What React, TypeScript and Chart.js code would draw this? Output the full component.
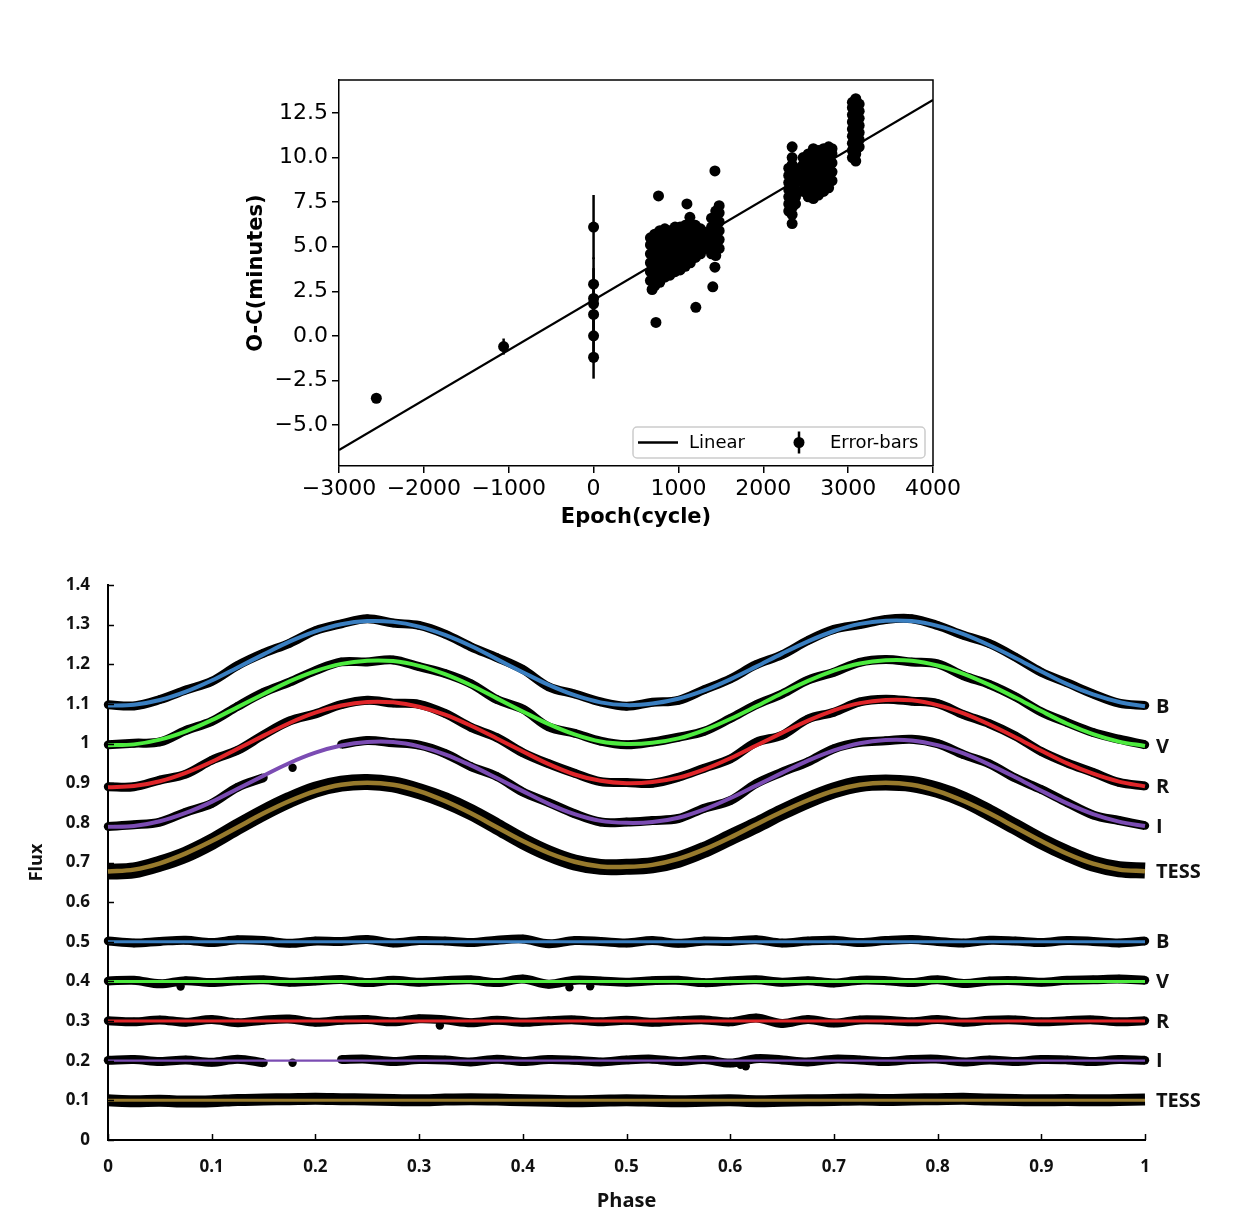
import React, { useEffect, useRef } from "react";
import { Chart, registerables } from "chart.js";

Chart.register(...registerables);

// ================= Top panel: O-C diagram =================
const epochTicks = [-3000, -2000, -1000, 0, 1000, 2000, 3000, 4000];
const epochTickLabels = ["−3000", "−2000", "−1000", "0", "1000", "2000", "3000", "4000"];
const ocTicks = [-5, -2.5, 0, 2.5, 5, 7.5, 10, 12.5];
const ocTickLabels = ["−5.0", "−2.5", "0.0", "2.5", "5.0", "7.5", "10.0", "12.5"];

// [epoch, O-C (minutes), error (minutes)]
const ocEarly = [[-2560, -3.5, 0.15], [-1060, -0.6, 0.45]];
const ocEpochZero = [[0, 6.1, 1.8], [0, 2.9, 1.5], [0, 2.1, 1.0], [0, 1.8, 2.0], [0, 1.2, 1.0], [0, 0.0, 1.5], [0, -1.2, 1.2]];

// [epoch, O-C (minutes)]
const ocGroupA = [
  [670, 3.1], [670, 3.6], [670, 4.1], [670, 4.6], [670, 5.1], [670, 5.5],
  [720, 2.8], [720, 3.3], [720, 3.8], [720, 4.3], [720, 4.8], [720, 5.3], [720, 5.7],
  [780, 3.0], [780, 3.5], [780, 4.0], [780, 4.5], [780, 5.0], [780, 5.5], [780, 5.9],
  [840, 3.3], [840, 3.8], [840, 4.3], [840, 4.8], [840, 5.3], [840, 5.8], [840, 6.0],
  [900, 3.4], [900, 3.9], [900, 4.4], [900, 4.9], [900, 5.4], [900, 5.9],
  [960, 3.6], [960, 4.1], [960, 4.6], [960, 5.1], [960, 5.6], [960, 6.1],
  [1020, 3.7], [1020, 4.2], [1020, 4.7], [1020, 5.2], [1020, 5.7], [1020, 6.1],
  [1080, 3.9], [1080, 4.4], [1080, 4.9], [1080, 5.4], [1080, 5.9], [1080, 6.2],
  [1140, 4.1], [1140, 4.6], [1140, 5.1], [1140, 5.6], [1140, 6.1],
  [1200, 4.4], [1200, 4.9], [1200, 5.4], [1200, 5.9], [1200, 6.2],
  [1260, 4.6], [1260, 5.1], [1260, 5.6], [1260, 6.0],
  [1320, 4.9], [1320, 5.4], [1320, 5.8],
  [690, 2.6], [735, 0.75], [765, 7.85], [1100, 7.4], [1135, 6.65], [1205, 1.6],
];
const ocGroupB = [
  [1390, 4.6], [1390, 5.1], [1390, 5.6], [1390, 6.1], [1390, 6.6],
  [1440, 4.5], [1440, 5.0], [1440, 5.5], [1440, 6.0], [1440, 6.5], [1440, 7.0],
  [1480, 4.9], [1480, 5.4], [1480, 5.9], [1480, 6.4], [1480, 6.9], [1480, 7.3],
  [1430, 9.25], [1430, 3.85], [1405, 2.75],
];
const ocGroupC = [
  [2300, 7.0], [2300, 7.4], [2300, 7.8], [2300, 8.2], [2300, 8.6], [2300, 9.0], [2300, 9.4],
  [2340, 6.3], [2340, 6.8], [2340, 7.2], [2340, 7.6], [2340, 8.0], [2340, 8.4], [2340, 8.8], [2340, 9.2], [2340, 9.6], [2340, 10.0], [2340, 10.6],
  [2380, 7.4], [2380, 7.8], [2380, 8.2], [2380, 8.6], [2380, 9.0], [2380, 9.4],
];
const ocGroupD = [
  [2470, 8.1], [2470, 8.6], [2470, 9.1], [2470, 9.6], [2470, 10.0],
  [2530, 7.8], [2530, 8.3], [2530, 8.8], [2530, 9.3], [2530, 9.8], [2530, 10.2],
  [2590, 7.7], [2590, 8.2], [2590, 8.7], [2590, 9.2], [2590, 9.7], [2590, 10.2], [2590, 10.5],
  [2650, 7.9], [2650, 8.4], [2650, 8.9], [2650, 9.4], [2650, 9.9], [2650, 10.4],
  [2710, 8.1], [2710, 8.6], [2710, 9.1], [2710, 9.6], [2710, 10.1], [2710, 10.5],
  [2770, 8.3], [2770, 8.8], [2770, 9.3], [2770, 9.8], [2770, 10.3], [2770, 10.6],
  [2810, 8.7], [2810, 9.2], [2810, 9.7], [2810, 10.2], [2810, 10.5],
];
const ocGroupE = [
  [3050, 10.0], [3050, 10.4], [3050, 10.8], [3050, 11.2], [3050, 11.6], [3050, 12.0], [3050, 12.4], [3050, 12.8], [3050, 13.1],
  [3090, 9.8], [3090, 10.2], [3090, 10.6], [3090, 11.0], [3090, 11.4], [3090, 11.8], [3090, 12.2], [3090, 12.6], [3090, 13.0], [3090, 13.3],
  [3130, 10.6], [3130, 11.0], [3130, 11.4], [3130, 11.8], [3130, 12.2], [3130, 12.6], [3130, 13.0],
];
const linearFit = [[-3000, -6.4], [4000, 13.23]];

// ================= Bottom panel: light curves =================
const phaseTicks = [0, 0.1, 0.2, 0.3, 0.4, 0.5, 0.6, 0.7, 0.8, 0.9, 1];
const phaseTickLabels = ["0", "0.1", "0.2", "0.3", "0.4", "0.5", "0.6", "0.7", "0.8", "0.9", "1"];
const fluxTicks = [0, 0.1, 0.2, 0.3, 0.4, 0.5, 0.6, 0.7, 0.8, 0.9, 1, 1.1, 1.2, 1.3, 1.4];
const fluxTickLabels = ["0", "0.1", "0.2", "0.3", "0.4", "0.5", "0.6", "0.7", "0.8", "0.9", "1", "1.1", "1.2", "1.3", "1.4"];

const phases = [
  0, 0.025, 0.05, 0.075, 0.1, 0.125, 0.15, 0.175, 0.2, 0.225, 0.25, 0.275, 0.3, 0.325, 0.35, 0.375, 0.4, 0.425, 0.45, 0.475, 0.5,
  0.525, 0.55, 0.575, 0.6, 0.625, 0.65, 0.675, 0.7, 0.725, 0.75, 0.775, 0.8, 0.825, 0.85, 0.875, 0.9, 0.925, 0.95, 0.975, 1,
];
const bandNames = ["B", "V", "R", "I", "TESS"];

const modelB = [1.096, 1.098, 1.110, 1.131, 1.159, 1.192, 1.225, 1.257, 1.283, 1.301, 1.309, 1.307, 1.295, 1.274, 1.246, 1.213, 1.180, 1.148, 1.122, 1.104, 1.097,
  1.101, 1.113, 1.134, 1.162, 1.194, 1.227, 1.258, 1.284, 1.302, 1.310, 1.309, 1.297, 1.276, 1.248, 1.216, 1.182, 1.150, 1.124, 1.105, 1.094];
const modelV = [0.996, 0.998, 1.010, 1.031, 1.059, 1.092, 1.125, 1.157, 1.183, 1.201, 1.209, 1.208, 1.196, 1.175, 1.147, 1.114, 1.081, 1.049, 1.023, 1.005, 0.999,
  1.002, 1.013, 1.034, 1.062, 1.094, 1.127, 1.158, 1.184, 1.202, 1.210, 1.209, 1.197, 1.176, 1.148, 1.116, 1.082, 1.050, 1.024, 1.005, 0.994];
const modelR = [0.890, 0.893, 0.905, 0.926, 0.954, 0.987, 1.020, 1.052, 1.078, 1.096, 1.105, 1.104, 1.093, 1.073, 1.045, 1.013, 0.980, 0.948, 0.922, 0.906, 0.900,
  0.903, 0.914, 0.935, 0.963, 0.995, 1.027, 1.058, 1.084, 1.102, 1.110, 1.109, 1.097, 1.076, 1.048, 1.016, 0.982, 0.950, 0.924, 0.904, 0.892];
const modelI = [0.790, 0.792, 0.804, 0.825, 0.853, 0.886, 0.919, 0.951, 0.977, 0.995, 1.004, 1.004, 0.993, 0.973, 0.945, 0.913, 0.880, 0.848, 0.822, 0.805, 0.800,
  0.802, 0.813, 0.834, 0.862, 0.894, 0.926, 0.957, 0.983, 1.001, 1.009, 1.008, 0.996, 0.975, 0.947, 0.915, 0.881, 0.849, 0.822, 0.803, 0.792];
const modelTESS = [0.677, 0.682, 0.698, 0.723, 0.754, 0.789, 0.824, 0.855, 0.880, 0.896, 0.901, 0.896, 0.880, 0.855, 0.824, 0.789, 0.754, 0.724, 0.702, 0.690, 0.689,
  0.694, 0.709, 0.733, 0.763, 0.796, 0.828, 0.857, 0.881, 0.896, 0.901, 0.896, 0.880, 0.855, 0.824, 0.789, 0.754, 0.722, 0.697, 0.682, 0.678];

const residB = [0.002, -0.003, 0.001, 0.004, -0.002, 0.005, 0.003, -0.004, 0.002, 0.001, 0.006, -0.003, 0.003, 0.002, -0.002, 0.004, 0.007, -0.005, 0.003, 0.001, -0.003,
  0.003, -0.004, 0.002, 0.001, 0.005, -0.003, 0.002, 0.004, -0.002, 0.003, 0.006, 0.001, -0.003, 0.004, 0.002, -0.002, 0.003, 0.001, -0.003, 0.002];
const residV = [0.001, 0.003, -0.006, 0.002, -0.003, 0.002, 0.004, -0.002, 0.001, 0.005, -0.003, 0.003, -0.002, 0.002, 0.004, -0.003, 0.006, -0.007, 0.003, 0.001, -0.002,
  0.002, 0.003, -0.003, 0.001, 0.004, -0.002, 0.002, -0.004, 0.003, 0.002, -0.003, 0.004, -0.005, 0.001, 0.002, -0.002, 0.003, 0.004, 0.006, 0.003];
const residR = [0.001, -0.002, 0.003, -0.003, 0.004, -0.004, 0.002, 0.005, -0.003, 0.002, 0.004, -0.002, 0.006, 0.003, -0.004, 0.002, -0.003, 0.001, 0.003, -0.002, 0.002,
  -0.003, 0.001, 0.003, -0.002, 0.008, -0.006, 0.004, -0.005, 0.003, 0.002, -0.002, 0.004, -0.003, 0.002, 0.003, -0.002, 0.001, 0.003, -0.002, 0.001];
const residI = [0.001, 0.003, -0.002, 0.002, -0.004, 0.004, -0.005, null, null, 0.003, 0.004, -0.002, 0.003, 0.002, -0.003, 0.004, -0.002, 0.003, 0.001, -0.003, 0.002,
  0.004, -0.002, 0.003, -0.006, 0.005, 0.002, -0.003, 0.004, 0.002, -0.002, 0.003, 0.004, -0.003, 0.002, -0.002, 0.003, 0.002, -0.002, 0.003, 0.001];
const residTESS = [0.000, -0.002, -0.001, -0.003, -0.002, 0.001, 0.002, 0.003, 0.004, 0.003, 0.002, 0.001, 0.000, 0.002, 0.003, 0.002, 0.000, -0.001, -0.002, -0.001, 0.000,
  -0.001, -0.002, -0.001, 0.000, -0.002, -0.001, 0.000, 0.001, 0.002, 0.001, 0.002, 0.003, 0.004, 0.002, 0.001, 0.000, 0.001, 0.000, 0.001, 0.002];
const residualLevels = [0.5, 0.4, 0.3, 0.2, 0.1];

// isolated observations [phase, flux]
const strayResidualPoints = [[0.07, 0.387], [0.445, 0.385], [0.465, 0.388], [0.178, 0.195], [0.61, 0.19], [0.615, 0.186], [0.32, 0.289]];
const strayCurvePoints = [[0.178, 0.939]];

// ================= styles =================
const BAND_COLORS = ["#3a7fc1", "#4deb3f", "#e0262a", "#7b4cb3", "#977a2d"];
const TOP_FONT = '"DejaVu Sans", sans-serif';
const BOT_FONT = '"Open Sans", sans-serif';

const toXY = (ys: (number | null)[]) => phases.map((p, i) => ({ x: p, y: ys[i] == null ? null : (ys[i] as number) }));
const addArr = (a: number[], b: (number | null)[]) => a.map((v, i) => (b[i] == null ? null : v + (b[i] as number)));
const levelArr = (lvl: number, b: (number | null)[]) => b.map((v) => (v == null ? null : lvl + v));

export default function App() {
  const topRef = useRef<HTMLCanvasElement>(null);
  const botRef = useRef<HTMLCanvasElement>(null);

  useEffect(() => {
    // ---------- top chart ----------
    const pts: any[] = [];
    ocEarly.forEach(([x, y, e]) => pts.push({ x, y, err: e }));
    ocEpochZero.forEach(([x, y, e]) => pts.push({ x, y, err: e }));
    [ocGroupA, ocGroupB, ocGroupC, ocGroupD, ocGroupE].forEach((g) => g.forEach(([x, y]) => pts.push({ x, y, err: 0 })));

    const topPlugin = {
      id: "topDeco",
      afterDatasetsDraw(chart: any) {
        const ctx = chart.ctx;
        const xs = chart.scales.x, ys = chart.scales.y;
        ctx.save();
        ctx.strokeStyle = "#000";
        ctx.lineWidth = 2.5;
        chart.data.datasets[1].data.forEach((p: any) => {
          if (!p.err) return;
          const px = xs.getPixelForValue(p.x);
          ctx.beginPath();
          ctx.moveTo(px, ys.getPixelForValue(p.y - p.err));
          ctx.lineTo(px, ys.getPixelForValue(p.y + p.err));
          ctx.stroke();
        });
        ctx.restore();
      },
      afterDraw(chart: any) {
        const ctx = chart.ctx;
        const { left, right, top, bottom } = chart.chartArea;
        ctx.save();
        ctx.strokeStyle = "#000";
        ctx.lineWidth = 1.5;
        ctx.beginPath();
        ctx.moveTo(left, top);
        ctx.lineTo(right, top);
        ctx.lineTo(right, bottom);
        ctx.stroke();
        // legend
        const w = 292, h = 31;
        const x0 = right - 8 - w, y0 = bottom - 8 - h;
        ctx.fillStyle = "rgba(255,255,255,0.85)";
        ctx.strokeStyle = "#cccccc";
        ctx.lineWidth = 1.5;
        ctx.beginPath();
        (ctx as any).roundRect(x0, y0, w, h, 4);
        ctx.fill();
        ctx.stroke();
        const cy = y0 + h / 2;
        ctx.strokeStyle = "#000";
        ctx.lineWidth = 2.5;
        ctx.beginPath();
        ctx.moveTo(x0 + 5, cy);
        ctx.lineTo(x0 + 45, cy);
        ctx.stroke();
        ctx.fillStyle = "#000";
        ctx.font = `18px ${TOP_FONT}`;
        ctx.textBaseline = "middle";
        ctx.textAlign = "left";
        ctx.fillText(chart.data.datasets[0].label, x0 + 56, cy + 1);
        ctx.beginPath();
        ctx.moveTo(x0 + 166, cy - 11);
        ctx.lineTo(x0 + 166, cy + 11);
        ctx.stroke();
        ctx.beginPath();
        ctx.arc(x0 + 166, cy, 5.5, 0, Math.PI * 2);
        ctx.fill();
        ctx.fillText(chart.data.datasets[1].label, x0 + 197, cy + 1);
        ctx.restore();
      },
    };

    const topChart = new Chart(topRef.current!, {
      type: "scatter",
      data: {
        datasets: [
          {
            label: "Linear",
            data: linearFit.map(([x, y]) => ({ x, y })),
            showLine: true,
            borderColor: "#000",
            borderWidth: 2.2,
            pointRadius: 0,
            order: 2,
          } as any,
          {
            label: "Error-bars",
            data: pts,
            pointRadius: 5.5,
            backgroundColor: "#000",
            borderWidth: 0,
            order: 1,
          },
        ],
      },
      options: {
        animation: false,
        responsive: false,
        layout: { padding: { left: 244, right: 308, top: 80, bottom: 15 } },
        plugins: { legend: { display: false }, tooltip: { enabled: false } },
        scales: {
          x: {
            type: "linear",
            min: -3000,
            max: 4000,
            afterBuildTicks: (s: any) => { s.ticks = epochTicks.map((v) => ({ value: v })); },
            afterFit: (s: any) => { s.height = 64; },
            grid: { drawOnChartArea: false, drawTicks: true, tickLength: 7, color: "#000", lineWidth: 1.5 },
            border: { color: "#000", width: 1.5 },
            ticks: { font: { family: TOP_FONT, size: 22 }, color: "#000", padding: 3, maxRotation: 0, autoSkip: false, callback: (_v: any, i: number) => epochTickLabels[i] },
            title: { display: true, text: "Epoch(cycle)", font: { family: TOP_FONT, size: 21, weight: "bold" }, color: "#000", padding: 0 },
          },
          y: {
            type: "linear",
            min: -7.3,
            max: 14.35,
            afterBuildTicks: (s: any) => { s.ticks = ocTicks.map((v) => ({ value: v })); },
            afterFit: (s: any) => { s.width = 95; },
            grid: { drawOnChartArea: false, drawTicks: true, tickLength: 7, color: "#000", lineWidth: 1.5 },
            border: { color: "#000", width: 1.5 },
            ticks: { font: { family: TOP_FONT, size: 22 }, color: "#000", padding: 4, autoSkip: false, callback: (_v: any, i: number) => ocTickLabels[i] },
            title: { display: true, text: "O-C(minutes)", font: { family: TOP_FONT, size: 21, weight: "bold" }, color: "#000", padding: 0 },
          },
        },
      } as any,
      plugins: [topPlugin],
    });

    // ---------- bottom chart ----------
    const models = [modelB, modelV, modelR, modelI];
    const resids = [residB, residV, residR, residI];
    const ds: any[] = [];
    models.forEach((m, b) => {
      const obs = addArr(m, resids[b]);
      const res = levelArr(residualLevels[b], resids[b]);
      ds.push({ data: toXY(obs), showLine: true, borderColor: "#000", borderWidth: 9, pointRadius: 0, tension: 0.35, spanGaps: false, clip: false, order: 6 });
      ds.push({ data: toXY(obs), showLine: false, pointRadius: 4.2, backgroundColor: "#000", borderWidth: 0, clip: false, order: 5 });
      ds.push({ data: toXY(m), showLine: true, borderColor: BAND_COLORS[b], borderWidth: 4, pointRadius: 0, tension: 0.35, clip: false, order: 1 });
      ds.push({ data: toXY(res), showLine: true, borderColor: "#000", borderWidth: 9, pointRadius: 0, tension: 0.35, spanGaps: false, clip: false, order: 6 });
      ds.push({ data: toXY(res), showLine: false, pointRadius: 4.2, backgroundColor: "#000", borderWidth: 0, clip: false, order: 5 });
      ds.push({ data: [{ x: 0, y: residualLevels[b] }, { x: 1, y: residualLevels[b] }], showLine: true, borderColor: BAND_COLORS[b], borderWidth: b === 3 ? 2.2 : 3, pointRadius: 0, clip: false, order: 1 });
    });
    // TESS
    ds.push({ data: toXY(addArr(modelTESS, residTESS)), showLine: true, borderColor: "#000", borderWidth: 16, pointRadius: 0, tension: 0.35, clip: false, order: 6 });
    ds.push({ data: toXY(modelTESS), showLine: true, borderColor: BAND_COLORS[4], borderWidth: 4.5, pointRadius: 0, tension: 0.35, clip: false, order: 1 });
    ds.push({ data: toXY(levelArr(residualLevels[4], residTESS)), showLine: true, borderColor: "#000", borderWidth: 12, pointRadius: 0, tension: 0.35, clip: false, order: 6 });
    ds.push({ data: [{ x: 0, y: residualLevels[4] }, { x: 1, y: residualLevels[4] }], showLine: true, borderColor: BAND_COLORS[4], borderWidth: 3, pointRadius: 0, clip: false, order: 1 });
    // stray points
    ds.push({ data: strayResidualPoints.concat(strayCurvePoints).map(([x, y]) => ({ x, y })), showLine: false, pointRadius: 4.2, backgroundColor: "#000", borderWidth: 0, clip: false, order: 5 });

    const endValues = [modelB[40], modelV[40], modelR[40], modelI[40], modelTESS[40]];

    const botPlugin = {
      id: "botDeco",
      afterDraw(chart: any) {
        const ctx = chart.ctx;
        const xs = chart.scales.x, ys = chart.scales.y;
        const { left, right, bottom } = chart.chartArea;
        ctx.save();
        ctx.strokeStyle = "#000";
        ctx.lineWidth = 1.5;
        fluxTicks.forEach((v) => {
          const py = Math.round(ys.getPixelForValue(v)) + 0.5;
          ctx.beginPath();
          ctx.moveTo(left, py);
          ctx.lineTo(left + 6, py);
          ctx.stroke();
        });
        phaseTicks.forEach((v) => {
          const px = Math.round(xs.getPixelForValue(v)) + 0.5;
          ctx.beginPath();
          ctx.moveTo(px, bottom);
          ctx.lineTo(px, bottom - 6);
          ctx.stroke();
        });
        ctx.fillStyle = "#111";
        ctx.font = `bold 20px ${BOT_FONT}`;
        ctx.textAlign = "left";
        ctx.textBaseline = "middle";
        bandNames.forEach((n, b) => {
          ctx.fillText(n, right + 11, ys.getPixelForValue(endValues[b]) + 1);
          ctx.fillText(n, right + 11, ys.getPixelForValue(residualLevels[b]) + 1);
        });
        ctx.restore();
      },
    };

    const botChart = new Chart(botRef.current!, {
      type: "scatter",
      data: { datasets: ds },
      options: {
        animation: false,
        responsive: false,
        layout: { padding: { left: 26, right: 96, top: 30, bottom: 4 } },
        plugins: { legend: { display: false }, tooltip: { enabled: false } },
        scales: {
          x: {
            type: "linear",
            min: 0,
            max: 1,
            afterBuildTicks: (s: any) => { s.ticks = phaseTicks.map((v) => ({ value: v })); },
            afterFit: (s: any) => { s.height = 73; },
            grid: { display: false, drawTicks: false },
            border: { color: "#000", width: 2 },
            ticks: { font: { family: BOT_FONT, size: 17, weight: "bold" }, color: "#111", padding: 17, maxRotation: 0, autoSkip: false, callback: (_v: any, i: number) => phaseTickLabels[i] },
            title: { display: true, text: "Phase", font: { family: BOT_FONT, size: 20, weight: "bold" }, color: "#111", padding: 0 },
          },
          y: {
            type: "linear",
            min: 0,
            max: 1.4,
            afterBuildTicks: (s: any) => { s.ticks = fluxTicks.map((v) => ({ value: v })); },
            afterFit: (s: any) => { s.width = 82; },
            grid: { display: false, drawTicks: false },
            border: { color: "#000", width: 2 },
            ticks: { font: { family: BOT_FONT, size: 17, weight: "bold" }, color: "#111", padding: 18, autoSkip: false, callback: (_v: any, i: number) => fluxTickLabels[i] },
            title: { display: true, text: "Flux", font: { family: BOT_FONT, size: 18, weight: "bold" }, color: "#111", padding: 0 },
          },
        },
      } as any,
      plugins: [botPlugin],
    });

    return () => {
      topChart.destroy();
      botChart.destroy();
    };
  }, []);

  return (
    <div style={{ position: "absolute", left: 0, top: 0, width: 1241, height: 1217, background: "#fff" }}>
      <canvas ref={topRef} width={1241} height={545} style={{ position: "absolute", left: 0, top: 0, width: 1241, height: 545 }} />
      <canvas ref={botRef} width={1241} height={662} style={{ position: "absolute", left: 0, top: 555, width: 1241, height: 662 }} />
    </div>
  );
}
